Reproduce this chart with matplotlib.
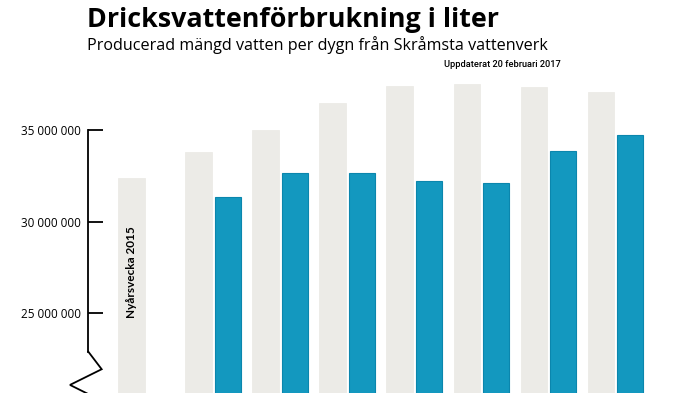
import matplotlib.pyplot as plt
import numpy as np

# data (liter per dygn)
grupper = list(range(8))
varden_2015 = [32.37e6, 33.80e6, 34.98e6, 36.47e6, 37.42e6, 37.52e6, 37.34e6, 37.06e6]
varden_2017 = [None, 31.36e6, 32.67e6, 32.64e6, 32.22e6, 32.13e6, 33.84e6, 34.73e6]
yticks = [25e6, 30e6, 35e6]
ytick_labels = ['25 000 000', '30 000 000', '35 000 000']

grey = '#ecebe7'
blue = '#1398bf'

fig = plt.figure(figsize=(7, 3.93), dpi=100)
ax = fig.add_axes([0, 0, 1, 1])
ax.patch.set_alpha(0)

# axes limits so that 35M sits at y=130px and 25M at y=313px
ax.set_xlim(-2.18, 8.26)
ax.set_ylim(20.65e6, 42.09e6)

x = np.array(grupper, dtype=float)
w = 0.392
off = 0.44
ax.bar(x - off / 2, varden_2015, width=w, color=grey, edgecolor='#eae9e5', linewidth=0.5)
x2 = [xi for xi, v in zip(x, varden_2017) if v is not None]
v2 = [v for v in varden_2017 if v is not None]
ax.bar(np.array(x2) + off / 2, v2, width=w, color=blue, edgecolor='#0b86ad', linewidth=0.8)

ax.text(x[0] - off / 2, 27.25e6, 'Nyårsvecka 2015', rotation=90, ha='center', va='center',
        fontsize=8.5, fontweight='bold', family='Lato')

# y axis at the left with a break
ax_x = -0.863
for s in ['top', 'right', 'bottom']:
    ax.spines[s].set_visible(False)
ax.spines['left'].set_position(('data', ax_x))
ax.spines['left'].set_bounds(22.91e6, 35e6)
ax.spines['left'].set_linewidth(1.3)
ax.set_xticks([])
ax.set_yticks(yticks)
ax.set_yticklabels(ytick_labels, family='Open Sans', fontsize=8.5)
ax.tick_params(axis='y', direction='in', length=11, width=1.3, pad=5, color='black')

# zigzag break, in pixel units converted to data
def px2x(px):
    return (px - 146.2) / 67.06

def px2y(py):
    return 42.09e6 - py * 5e6 / 91.67

zz_px = [88.3, 101.7, 70.0, 90.0]
zz_py = [351.7, 369.3, 385.0, 395.0]
ax.plot([px2x(p) for p in zz_px], [px2y(p) for p in zz_py], color='black', lw=1.3,
        solid_joinstyle='miter', clip_on=False)

fig.text(87 / 700, 1 - 27 / 393, 'Dricksvattenförbrukning i liter', fontsize=19.4,
         fontweight='bold', family='Open Sans', va='baseline', ha='left')
fig.text(87 / 700, 1 - 50 / 393, 'Producerad mängd vatten per dygn från Skråmsta vattenverk',
         fontsize=11.6, family='Open Sans', va='baseline', ha='left')
fig.text(561 / 700, 1 - 66.7 / 393, 'Uppdaterat 20 februari 2017', fontsize=6.7,
         fontweight='medium', family='Roboto', va='baseline', ha='right')

fig.savefig('out.png', dpi=100)
